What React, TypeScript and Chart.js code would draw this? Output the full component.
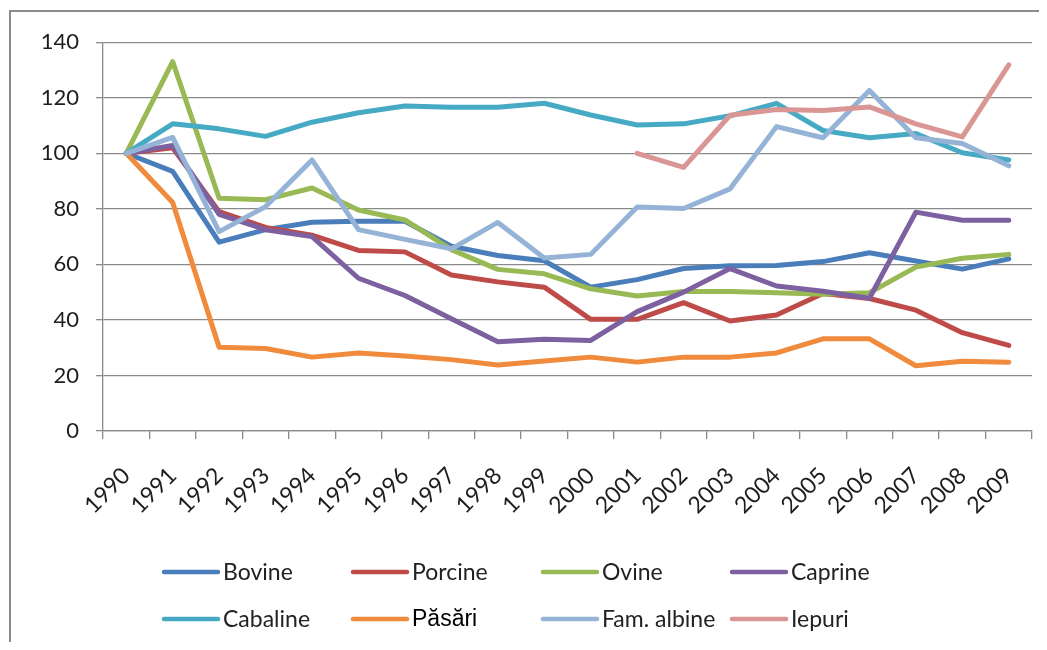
import React, { useEffect, useRef } from "react";
import { Chart, registerables } from "chart.js";

Chart.register(...registerables);

const years = ["1990","1991","1992","1993","1994","1995","1996","1997","1998","1999","2000","2001","2002","2003","2004","2005","2006","2007","2008","2009"];
const bovine = [100, 93.5, 68, 72.5, 75.2, 75.5, 75.5, 66.5, 63.2, 61.3, 51.8, 54.5, 58.5, 59.5, 59.6, 61, 64.2, 61.2, 58.3, 62];
const porcine = [100, 102, 79, 73.3, 70.5, 65, 64.5, 56.2, 53.7, 51.8, 40.2, 40.2, 46.2, 39.6, 41.8, 49.5, 47.7, 43.5, 35.4, 30.8];
const ovine = [100, 133, 83.8, 83.3, 87.5, 79.6, 76, 65.3, 58.2, 56.6, 51.2, 48.6, 50.2, 50.2, 49.8, 49.2, 49.8, 59, 62.2, 63.6];
const caprine = [100, 102.8, 78, 72.5, 70, 55, 48.8, 40.4, 32.1, 33, 32.6, 43, 50, 58.5, 52.2, 50.3, 47.8, 78.8, 75.9, 75.9];
const cabaline = [100, 110.6, 108.8, 106.1, 111.2, 114.6, 117, 116.6, 116.6, 118, 113.8, 110.2, 110.6, 113.5, 118, 108.2, 105.6, 107.1, 100.2, 97.6];
const pasari = [100, 82.3, 30.2, 29.7, 26.6, 28.1, 27, 25.7, 23.8, 25.2, 26.6, 24.8, 26.6, 26.6, 28.1, 33.2, 33.2, 23.5, 25.1, 24.8];
const albine = [100, 105.7, 71.8, 80.8, 97.6, 72.5, 69, 65.6, 75.1, 62.3, 63.6, 80.7, 80.1, 87.2, 109.6, 105.6, 122.6, 105.6, 103.5, 95.5];
const iepuri = [null, null, null, null, null, null, null, null, null, null, null, 100, 94.9, 113.7, 115.8, 115.4, 116.7, 110.6, 105.9, 131.8];

const seriesNames = ["Bovine", "Porcine", "Ovine", "Caprine", "Cabaline", "Păsări", "Fam. albine", "Iepuri"];
const seriesValues = [bovine, porcine, ovine, caprine, cabaline, pasari, albine, iepuri];
const seriesColors = ["#4A7EBB", "#BE4B48", "#98B954", "#7D60A0", "#46AAC5", "#F08A3C", "#95B3D7", "#D99694"];

const yMin = 0;
const yMax = 140;
const yStep = 20;

const columnLegend = {
  id: "columnLegend",
  afterDraw(chart: any) {
    const ctx = chart.ctx;
    const ds = chart.data.datasets;
    const colX = [153, 342, 532, 721];
    const rowY = [560, 607];
    ctx.save();
    ds.forEach((d: any, i: number) => {
      const col = i % 4;
      const row = Math.floor(i / 4);
      const x = colX[col];
      const y = rowY[row];
      ctx.strokeStyle = d.borderColor;
      ctx.lineWidth = 4.5;
      ctx.lineCap = "round";
      ctx.beginPath();
      ctx.moveTo(x, y);
      ctx.lineTo(x + 54, y);
      ctx.stroke();
      const special = d.label === "Păsări";
      ctx.font = special ? "23px 'Liberation Sans'" : "23px Lato";
      ctx.fillStyle = special ? "#000000" : "#222222";
      ctx.textBaseline = "middle";
      ctx.textAlign = "left";
      ctx.fillText(d.label, x + 59, y + 1);
    });
    ctx.restore();
  },
};

export default function App() {
  const ref = useRef<HTMLCanvasElement | null>(null);
  useEffect(() => {
    if (!ref.current) return;
    const chart = new Chart(ref.current, {
      type: "line",
      data: {
        labels: years,
        datasets: seriesNames.map((name, i) => ({
          label: name,
          data: seriesValues[i],
          borderColor: seriesColors[i],
          backgroundColor: seriesColors[i],
          borderWidth: 5,
          pointRadius: 0,
          borderJoinStyle: "round" as const,
          borderCapStyle: "round" as const,
          tension: 0,
          spanGaps: false,
          order: seriesNames.length - i,
        })),
      },
      options: {
        responsive: false,
        animation: false,
        layout: { padding: { left: 0, right: 7, top: 30, bottom: 0 } },
        font: { family: "Lato" },
        plugins: {
          legend: { display: false },
          tooltip: { enabled: false },
        },
        scales: {
          x: {
            offset: true,
            grid: {
              offset: true,
              drawOnChartArea: false,
              drawTicks: true,
              tickLength: 8,
              color: "#8a8a8a",
              lineWidth: 1.3,
            },
            border: { color: "#8a8a8a", width: 1.3 },
            ticks: {
              autoSkip: false,
              minRotation: 45,
              maxRotation: 45,
              padding: 23,
              color: "#1e1e1e",
              font: { family: "Lato", size: 23 },
            },
            afterFit: (s: any) => {
              s.height = 211;
              s.paddingLeft = 0;
              s.paddingRight = 0;
            },
          },
          y: {
            min: yMin,
            max: yMax,
            grid: {
              color: "#8a8a8a",
              lineWidth: 1.3,
              tickLength: 7,
            },
            border: { color: "#8a8a8a", width: 1.3 },
            ticks: {
              stepSize: yStep,
              padding: 17,
              color: "#1e1e1e",
              font: { family: "Lato", size: 22 },
            },
            afterFit: (s: any) => { s.width = 92; },
          },
        },
      },
      plugins: [columnLegend],
    });
    return () => chart.destroy();
  }, []);

  return (
    <div
      style={{
        width: 1030,
        height: 632,
        marginTop: 2,
        marginLeft: 1,
        boxSizing: "border-box",
        borderTop: "2px solid #8b8b8b",
        borderLeft: "2px solid #8b8b8b",
        background: "#ffffff",
      }}
    >
      <canvas ref={ref} width={1028} height={630} style={{ display: "block" }} />
    </div>
  );
}
